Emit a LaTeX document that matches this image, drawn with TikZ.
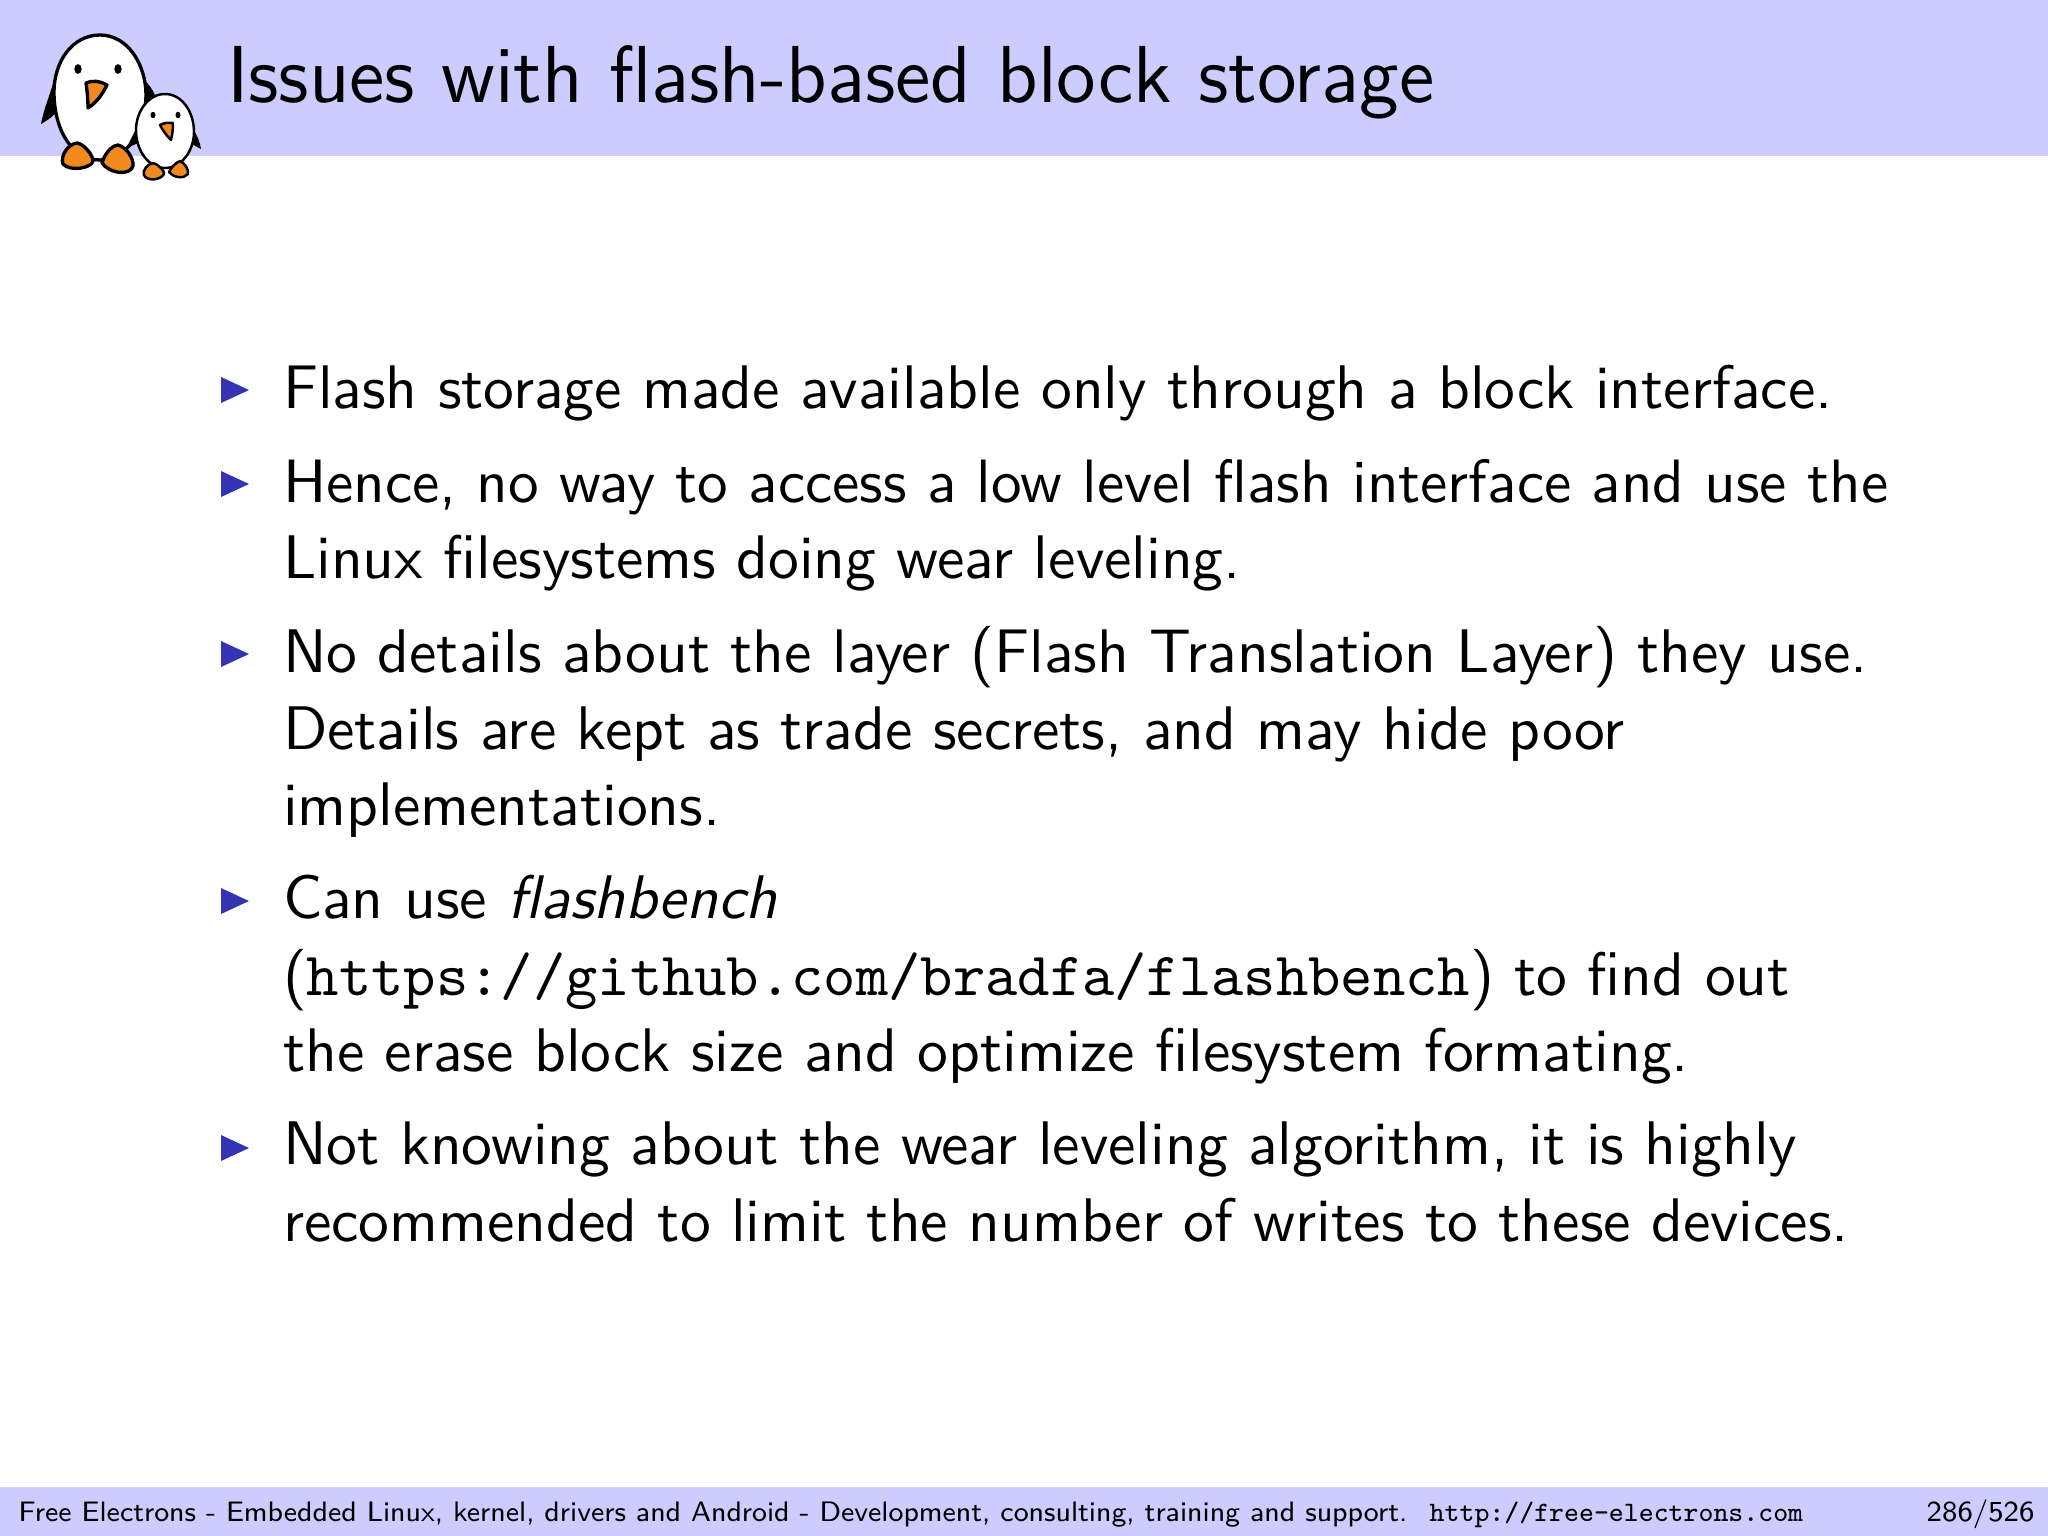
\documentclass[tikz,border=0pt]{standalone}
\usepackage{fontspec}
\definecolor{band}{HTML}{CCCCFF}
\definecolor{bullet}{HTML}{3333B3}
\definecolor{beak}{HTML}{F08A1E}
\tikzset{
  line/.style={anchor=base west,inner sep=0pt,outer sep=0pt,font=\sffamily\fontsize{10}{12}\selectfont,text=black,scale=1.75},
  headline/.style={anchor=base west,inner sep=0pt,outer sep=0pt,font=\sffamily\fontsize{12}{14}\selectfont,text=black,scale=1.915},
  bul/.style={fill=bullet,draw=none},
  ink/.style={draw=black,line width=0.95pt,line join=round},
  inks/.style={draw=black,line width=0.7pt,line join=round},
  foot/.style={anchor=base west,inner sep=0pt,font=\sffamily\fontsize{8}{10}\selectfont,text=black},
}
\begin{document}
\begin{tikzpicture}[x=0.01cm,y=-0.01cm]
\useasboundingbox (0,0) rectangle (2048,1536);
\fill[white] (0,0) rectangle (2048,1536);
\fill[band] (0,0) rectangle (2048,156);
\fill[band] (0,1487) rectangle (2048,1536);
% big penguin
\fill[black] (54,80) .. controls (50,95) and (44,108) .. (41,124) .. controls (48,120) and (54,116) .. (60,108) -- cycle;
\fill[black] (143,78) .. controls (148,84) and (152,88) .. (155,95) -- (140,115) -- cycle;
\draw[ink,fill=white] (100,35) .. controls (128,35) and (146,65) .. (146,95) .. controls (146,125) and (130,160) .. (100,160) .. controls (72,160) and (54,130) .. (54,92) .. controls (54,62) and (72,35) .. (100,35) -- cycle;
\fill[black] (78,69) ellipse (3.7 and 4.9);
\fill[black] (118,69) ellipse (3.7 and 4.9);
\draw[ink,fill=beak] (86,83) .. controls (92,80) and (100,81) .. (107,85) .. controls (102,95) and (96,103) .. (88,108) .. controls (88,99) and (87,90) .. (86,83) -- cycle;
\draw[ink,fill=beak] (77,143) .. controls (84,144) and (93,155) .. (93,161) .. controls (92,168) and (70,172) .. (63,164) .. controls (60,156) and (68,144) .. (77,143) -- cycle;
\draw[ink,fill=beak] (118,145) .. controls (126,147) and (134,158) .. (133,166) .. controls (130,176) and (110,174) .. (102,163) .. controls (104,156) and (110,146) .. (118,145) -- cycle;
% small penguin
\fill[black] (138,125) .. controls (134,133) and (130,140) .. (127,148) -- (138,143) -- cycle;
\fill[black] (192,127) .. controls (197,135) and (200,142) .. (201,149) -- (190,143) -- cycle;
\draw[inks,fill=white] (165,94) .. controls (182,94) and (194,112) .. (194,132) .. controls (194,150) and (182,168) .. (165,168) .. controls (148,168) and (136,150) .. (136,130) .. controls (136,112) and (148,94) .. (165,94) -- cycle;
\fill[black] (153,115) ellipse (2.5 and 3.2);
\fill[black] (178,115) ellipse (2.5 and 3.2);
\draw[inks,fill=beak] (160,125) .. controls (165,122) and (170,123) .. (173,123) .. controls (173,131) and (172,136) .. (171,140) .. controls (167,136) and (163,131) .. (160,125) -- cycle;
\draw[inks,fill=beak] (153,163) .. controls (158,164) and (165,171) .. (164,174) .. controls (160,181) and (146,181) .. (144,175) .. controls (142,170) and (148,164) .. (153,163) -- cycle;
\draw[inks,fill=beak] (180,161) .. controls (185,163) and (189,170) .. (188,174) .. controls (184,179) and (174,178) .. (169,172) .. controls (171,168) and (176,162) .. (180,161) -- cycle;
% title
\node[headline] (title) at (227,102) {Issues with flash-based block storage};
% bullets
\foreach \n/\yy in {a/390,b/484,c/654,d/901,e/1148}
  \fill[bul] (221,\yy-13) -- (249,\yy) -- (221,\yy+13) -- cycle;
% body
\node[line] (l1) at (283,408) {Flash storage made available only through a block interface.};
\node[line,scale=0.9943] (l2) at (283,502) {Hence, no way to access a low level flash interface and use the};
\node[line] (l3) at (283,578) {Linux filesystems doing wear leveling.};
\node[line] (l4) at (283,672) {No details about the layer (Flash Translation Layer) they use.};
\node[line] (l5) at (283,749) {Details are kept as trade secrets, and may hide poor};
\node[line] (l6) at (283,825) {implementations.};
\node[line] (l7) at (283,918) {Can use \textit{flashbench}};
\node[line] (l8) at (283,995) {(\texttt{https://github.com/bradfa/flashbench}) to find out};
\node[line] (l9) at (283,1071) {the erase block size and optimize filesystem formating.};
\node[line] (l10) at (283,1164) {Not knowing about the wear leveling algorithm, it is highly};
\node[line] (l11) at (283,1241) {recommended to limit the number of writes to these devices.};
% footer
\node[foot] (f1) at (18,1521) {Free Electrons - Embedded Linux, kernel, drivers and Android - Development, consulting, training and support.};
\node[foot] (f2) at (1429,1521) {\texttt{http://free-electrons.com}};
\node[foot,scale=1.03] (f3) at (1926,1521) {286/526};
\end{tikzpicture}
\end{document}
